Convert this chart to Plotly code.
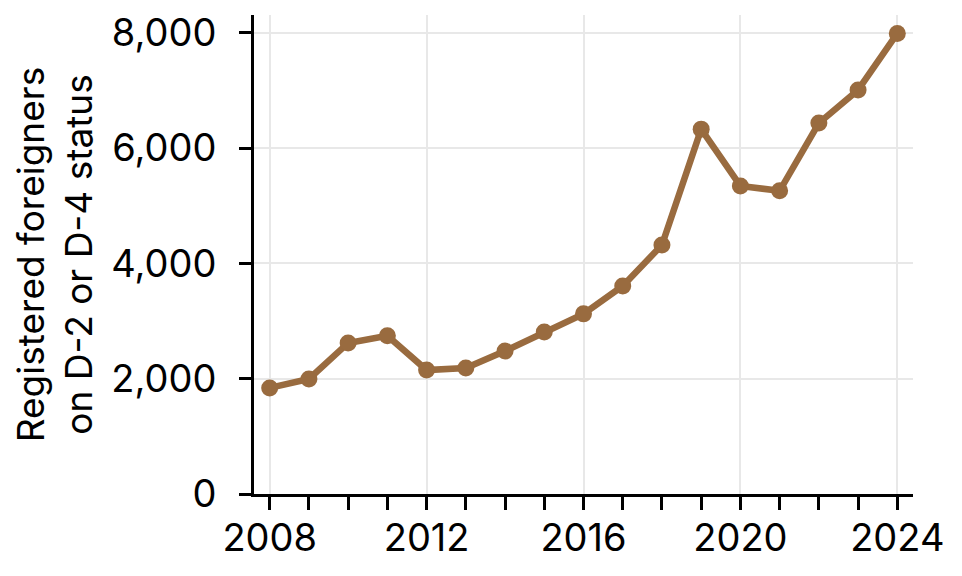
import plotly.graph_objects as go

years = list(range(2008, 2025))
registered = [1840, 1995, 2620, 2745, 2150, 2185, 2480, 2810, 3125, 3610, 4320, 6330, 5345, 5260, 6435, 7010, 7990]

y_ticks = [0, 2000, 4000, 6000, 8000]
x_ticks = [2008, 2012, 2016, 2020, 2024]

color = "#996B3F"

fig = go.Figure()
fig.add_trace(go.Scatter(x=years, y=registered, mode="lines+markers",
                         line=dict(color=color, width=6.5),
                         marker=dict(color=color, size=17),
                         showlegend=False))

# page body has an 8px margin, so margins are shifted to compensate
fig.update_layout(
    width=962, height=576,
    margin=dict(l=246, r=57, t=7, b=90),
    plot_bgcolor="white", paper_bgcolor="white",
    font=dict(family="Inter", size=38, color="black"),
)
fig.update_xaxes(
    range=[2007.6, 2024.4],
    tickvals=x_ticks,
    ticks="outside", ticklen=13, tickwidth=3, tickcolor="black",
    ticklabelstandoff=-5,
    automargin=False,
    showline=True, linecolor="black", linewidth=3,
    showgrid=True, gridcolor="#e8e8e8", gridwidth=2,
    minor=dict(dtick=1, tick0=2008, ticks="outside", ticklen=13, tickwidth=3, tickcolor="black", showgrid=False),
    zeroline=False,
)
fig.update_yaxes(
    range=[0, 8310],
    tickvals=y_ticks,
    tickformat=",",
    ticks="outside", ticklen=12, tickwidth=3, tickcolor="black",
    ticklabelstandoff=15,
    automargin=False,
    showline=True, linecolor="black", linewidth=3,
    showgrid=True, gridcolor="#e8e8e8", gridwidth=2,
    zeroline=False,
    title=dict(text="Registered foreigners<br>on D-2 or D-4 status", font=dict(size=37), standoff=30),
)

fig.write_html("out.html")
